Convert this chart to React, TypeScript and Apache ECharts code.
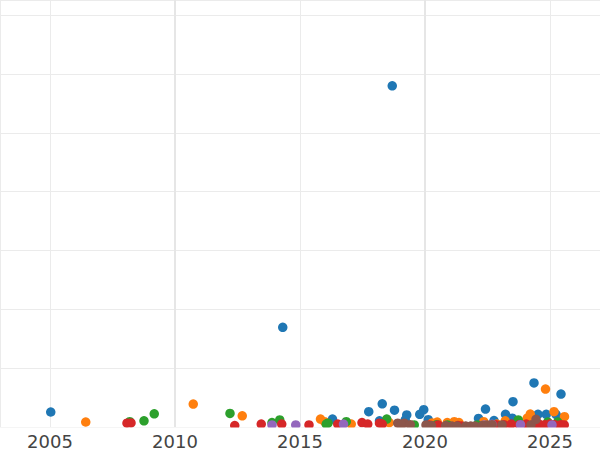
import React, { useEffect, useRef } from "react";
import * as echarts from "echarts";

// [year, value]
const blueSeries: [number, number][] = [
  [2005.03, 5.1], [2018.69, 116.0], [2014.31, 33.9], [2016.3, 2.7], [2017.75, 5.2],
  [2018.29, 7.9], [2018.78, 5.7], [2018.18, 2.1], [2019.27, 4.1], [2019.21, 2.4],
  [2019.95, 5.9], [2019.79, 4.3], [2020.13, 2.5], [2022.14, 2.9], [2022.42, 6.1],
  [2022.76, 2.2], [2023.22, 4.3], [2023.49, 3.0], [2023.52, 8.6], [2024.36, 15.0],
  [2024.52, 4.3], [2024.85, 4.3], [2025.24, 4.3], [2025.36, 3.0], [2025.44, 11.2],
];
const orangeSeries: [number, number][] = [
  [2006.43, 1.7], [2010.73, 7.8], [2012.69, 3.8], [2015.82, 2.7], [2015.98, 1.8],
  [2017.05, 1.0], [2018.57, 1.5], [2020.29, 1.4], [2020.49, 1.7], [2020.89, 1.5],
  [2021.17, 1.8], [2021.36, 1.5], [2022.35, 1.8], [2022.88, 1.0], [2023.21, 2.1],
  [2024.09, 3.0], [2024.21, 4.4], [2024.08, 2.4], [2024.82, 12.9], [2025.16, 5.2],
  [2025.58, 3.5],
];
const greenSeries: [number, number][] = [
  [2008.19, 1.8], [2008.76, 2.1], [2009.17, 4.5], [2012.2, 4.6], [2013.88, 1.5],
  [2014.19, 2.4], [2016.05, 1.0], [2016.12, 1.3], [2016.85, 1.8], [2018.47, 2.7],
  [2019.57, 0.7], [2020.47, 0.8], [2020.9, 0.7], [2022.09, 0.7], [2023.73, 2.4],
  [2024.91, 1.7], [2025.31, 1.7],
];
const redSeries: [number, number][] = [
  [2008.08, 1.3], [2008.24, 1.4], [2012.39, 0.5], [2013.45, 1.0], [2014.27, 1.0],
  [2015.36, 0.7], [2016.51, 1.0], [2017.48, 1.5], [2017.71, 1.0], [2018.18, 1.3],
  [2018.29, 1.0], [2020.16, 0.7], [2020.52, 0.7], [2021.32, 0.5], [2021.47, 0.3],
  [2022.84, 0.8], [2023.16, 0.8], [2023.45, 1.0], [2023.77, 0.8], [2024.05, 1.0],
  [2024.32, 0.8], [2024.56, 1.0], [2024.8, 0.8], [2024.99, 1.0], [2025.19, 0.8],
  [2025.44, 0.8], [2025.57, 0.7],
];
const purpleSeries: [number, number][] = [
  [2013.88, 0.7], [2014.83, 0.7], [2016.74, 1.0], [2022.36, 0.7], [2022.68, 0.9],
  [2023.82, 0.8], [2025.08, 0.7],
];
const brownSeries: [number, number][] = [
  [2018.91, 1.3], [2019.17, 1.3], [2019.05, 0.8], [2019.41, 0.8], [2020.04, 0.7],
  [2020.26, 0.5], [2020.83, 0.5], [2021.08, 0.3], [2021.28, 0.3], [2021.63, 0.3],
  [2021.83, 0.3], [2022.0, 0.3], [2022.29, 0.5], [2022.49, 0.7], [2022.68, 0.8],
  [2023.08, 0.7], [2024.24, 0.7], [2024.44, 2.6],
];

const seriesList = [
  { name: "A", color: "#1f77b4", data: blueSeries },
  { name: "B", color: "#ff7f0e", data: orangeSeries },
  { name: "C", color: "#2ca02c", data: greenSeries },
  { name: "D", color: "#d62728", data: redSeries },
  { name: "E", color: "#9467bd", data: purpleSeries },
  { name: "F", color: "#8c564b", data: brownSeries },
];

const emphasizedYears = [2010, 2020];

export default function App() {
  const ref = useRef<HTMLDivElement>(null);
  useEffect(() => {
    if (!ref.current) return;
    const chart = echarts.init(ref.current, undefined, { renderer: "svg" });
    chart.setOption({
      animation: false,
      grid: { left: -0.9, right: -1.5, top: -1, bottom: 23, containLabel: false },
      xAxis: {
        type: "value",
        min: 2003,
        max: 2027,
        splitNumber: 5,
        axisLine: { show: false },
        axisTick: { show: false },
        axisLabel: {
          showMinLabel: false,
          showMaxLabel: false,
          formatter: (v: number) => String(v),
          fontFamily: "DejaVu Sans",
          fontSize: 18,
          color: "#444",
          margin: 5,
        },
        splitLine: { show: true, lineStyle: { color: "#ebebeb", width: 1 } },
      },
      yAxis: {
        type: "value",
        min: 0,
        max: 145.2,
        interval: 20,
        axisLine: { show: false },
        axisTick: { show: false },
        axisLabel: { show: false },
        splitLine: { show: true, lineStyle: { color: "#ebebeb", width: 1 } },
      },
      graphic: [
        {
          type: "rect",
          z: 100,
          silent: true,
          shape: { x: 0, y: 427.5, width: 600, height: 5 },
          style: { fill: "#ffffff" },
        },
      ],
      series: seriesList.map((s, i) => ({
        type: "scatter",
        name: s.name,
        data: s.data,
        symbol: "circle",
        symbolSize: 9.5,
        itemStyle: { color: s.color, opacity: 1 },
        ...(i === 0
          ? {
              markLine: {
                z: 1,
                silent: true,
                symbol: "none",
                label: { show: false },
                lineStyle: { color: "#e6e6e6", width: 2, type: "solid" },
                data: emphasizedYears.map((y) => ({ xAxis: y })),
              },
            }
          : {}),
      })),
    });
    return () => chart.dispose();
  }, []);
  return (
    <div
      ref={ref}
      style={{ position: "fixed", left: 0, top: 0, width: 600, height: 450, background: "#fff" }}
    />
  );
}
